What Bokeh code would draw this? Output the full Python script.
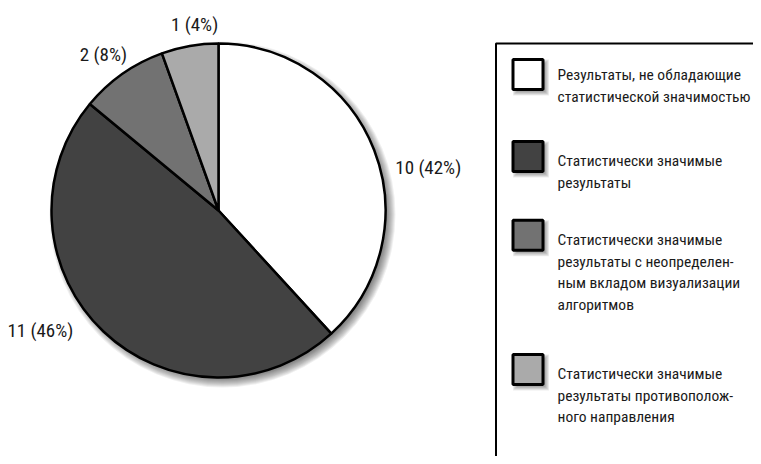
import math
from bokeh.plotting import figure
from bokeh.models import Range1d, ColumnDataSource
from bokeh.core.properties import value
from bokeh.embed import file_html
from bokeh.resources import INLINE

# ---------------- data ----------------
categories = [
    "Результаты, не обладающие\nстатистической значимостью",
    "Статистически значимые\nрезультаты",
    "Статистически значимые\nрезультаты с неопределен-\nным вкладом визуализации\nалгоритмов",
    "Статистически значимые\nрезультаты противополож-\nного направления",
]
counts = [10, 11, 2, 1]
# slice sizes as drawn in the picture (percent of the full circle)
drawn_share = [38.2, 47.8, 8.5, 5.5]
colors = ["#ffffff", "#424242", "#727272", "#aaaaaa"]

# ---------------- layout ----------------
W, H = 753, 456
FONT = "'Roboto Condensed', 'DejaVu Sans Condensed', sans-serif"


def Y(img_y):
    return 464 - img_y


CX, CY, R = 218, Y(210), 167

p = figure(width=W, height=H, output_backend="svg", toolbar_location=None,
           x_range=Range1d(0, W), y_range=Range1d(464 - H, 464), min_border=0)
p.axis.visible = False
p.grid.visible = False
p.outline_line_color = None
p.background_fill_color = "white"
p.border_fill_color = "white"

# soft drop shadow of the pie
for k in range(10):
    p.circle(x=CX + 4, y=CY - 4, radius=R + 6 - k, fill_color="black",
             fill_alpha=0.06, line_color=None)

# pie wedges
total_draw = sum(drawn_share)
starts, ends = [], []
acc = 0.0
for s in drawn_share:
    starts.append(math.pi / 2 - 2 * math.pi * acc / total_draw)
    acc += s
    ends.append(math.pi / 2 - 2 * math.pi * acc / total_draw)

src = ColumnDataSource(dict(start=starts, end=ends, color=colors))
p.wedge(x=CX, y=CY, radius=R, start_angle="start", end_angle="end",
        direction="clock", fill_color="color", line_color="black",
        line_width=2.5, source=src)

# pie labels (placed from the counts)
total = sum(counts)
acc = 0
for c in counts:
    mid = 2 * math.pi * (acc + c / 2) / total
    acc += c
    lr = 183
    lx = CX + lr * math.sin(mid)
    ly = CY + lr * math.cos(mid)
    s = math.sin(mid)
    if s > 0.2:
        align, dy = "left", -4
    elif s < -0.2:
        align, dy = "right", -2 if math.cos(mid) > 0 else -9
    else:
        align, dy = "center", 5
    pct = round(100 * c / total)
    p.text(x=[lx], y=[ly + dy], text=[f"{c} ({pct}%)"], text_align=align,
           text_baseline="middle", text_font=value(FONT), text_font_size="19px",
           text_color="#1a1a1a")

# legend box (extends beyond the visible area)
p.quad(left=495.5, right=900, top=Y(43), bottom=Y(700), fill_color="white",
       line_color="black", line_width=2)

swatch_cy = [74, 156, 234.7, 369]
text_base_y = [74.3, 160.7, 239.5, 373.3]
LINE_H = 21.7
for i, cat in enumerate(categories):
    # swatch shadow
    for k in range(6):
        p.rect(x=527.5 + 3, y=Y(swatch_cy[i]) - 3, width=36 - k * 1.6,
               height=36 - k * 1.6, fill_color="black", fill_alpha=0.07,
               line_color=None)
    p.rect(x=527.5, y=Y(swatch_cy[i]), width=30, height=30,
           fill_color=colors[i], line_color="black", line_width=3)
    for j, line in enumerate(cat.split("\n")):
        p.text(x=[557], y=[Y(text_base_y[i] + LINE_H * j)], text=[line],
               text_align="left", text_baseline="alphabetic",
               text_font=value(FONT), text_font_size="15.5px",
               text_color="#1a1a1a")

open("out.html", "w").write(file_html(p, INLINE))
